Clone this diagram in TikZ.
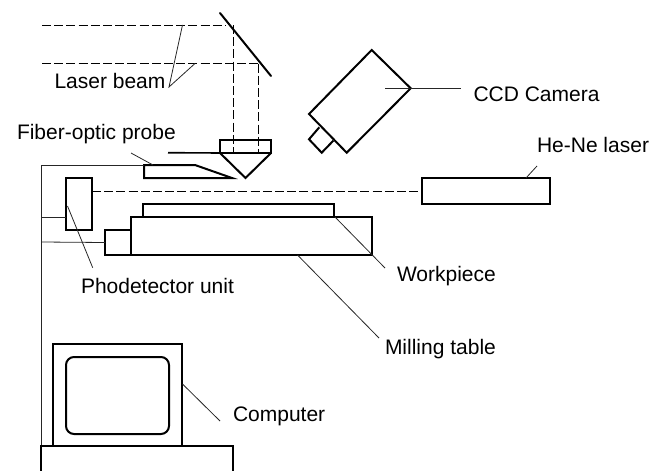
\documentclass[tikz,border=0pt]{standalone}
\usepackage{fontspec}
\setmainfont{Liberation Sans}
\tikzset{
  thickline/.style={line width=2pt,black,line join=miter},
  thinline/.style={line width=0.8pt,black!85},
  beam/.style={line width=0.9pt,black,dash pattern=on 9pt off 3.2pt},
  boxnode/.style={draw,line width=2pt,rectangle,inner sep=0pt,outer sep=0pt,fill=white},
  lbl/.style={anchor=base west,inner sep=0pt,outer sep=0pt,font=\fontsize{21pt}{25pt}\selectfont,text=black}
}
\begin{document}
\begin{tikzpicture}[x=1pt,y=-1pt]
\useasboundingbox (0,0) rectangle (653,471);
% named points
\coordinate (mirA) at (220,13);
\coordinate (mirB) at (271,76);
\coordinate (beamAL) at (42,25);
\coordinate (beamAR) at (226,25);
\coordinate (beamBL) at (42,63.5);
\coordinate (beamBR) at (259,63.5);
\coordinate (downAT) at (233,25);
\coordinate (downAB) at (233,152);
\coordinate (downBT) at (258.5,63.5);
\coordinate (downBB) at (258.5,152);
% wires and beams first
\draw[beam] (beamAL) -- (beamAR);
\draw[beam] (beamBL) -- (beamBR);
\draw[beam] (downAT) -- (downAB);
\draw[beam] (downBT) -- (downBB);
\draw[thickline,line cap=round] (mirA) -- (mirB);
% objective
\node[boxnode,fill=none,minimum width=51pt,minimum height=13pt] (obj) at (245.5,146.5) {};
\draw[thickline] (obj.south west) -- (245.5,178) -- (obj.south east);
\draw[thickline,line width=1.6pt] (168,152.7) -- (obj.south west);
% probe
\coordinate (pa) at (144,165);
\coordinate (pb) at (195,165);
\coordinate (pc) at (232,178);
\coordinate (pd) at (144,178);
\draw[thickline] (pa) -- (pb) -- (pc) -- (pd) -- cycle;
% detector and table
\node[boxnode,minimum width=26pt,minimum height=52pt] (det) at (79,204) {};
\node[boxnode,minimum width=26pt,minimum height=25pt] (drive) at (118,242.5) {};
\node[boxnode,minimum width=241pt,minimum height=38pt] (table) at (251.5,236) {};
\node[boxnode,minimum width=191pt,minimum height=13pt] (work) at (238.5,210.5) {};
\node[boxnode,minimum width=128pt,minimum height=26pt] (hene) at (486,191) {};
\draw[beam] (det.east |- hene.west) -- (hene.west);
% wiring
\coordinate (busT) at (41.5,165);
\coordinate (busB) at (41.5,446);
\coordinate (busD) at (41.5,217.5);
\coordinate (busM) at (41.5,242);
\draw[thinline] (pa) -- (busT) -- (busB);
\draw[thinline] (busD) -- (det.west |- busD);
\draw[thinline] (busM) -- (drive.west);
% camera
\coordinate (ca) at (371.7,50);
\coordinate (cb) at (410.7,88.3);
\coordinate (cc) at (346.7,152.7);
\coordinate (cd) at (309,114);
\coordinate (le) at (319.3,127.3);
\coordinate (lf) at (333.3,140.7);
\coordinate (lg) at (309,139.3);
\coordinate (lh) at (321.7,152.7);
\draw[thickline] (ca) -- (cb) -- (cc) -- (cd) -- cycle;
\draw[thickline] (le) -- (lg) -- (lh) -- (lf);
% computer
\node[boxnode,minimum width=128.5pt,minimum height=102pt] (mon) at (117.25,395) {};
\node[boxnode,rounded corners=8pt,minimum width=103pt,minimum height=77pt] (scr) at (117.5,395.5) {};
\draw[thickline] (41,471) -- (41,446.3) -- (233,446.3) -- (233,471);
% labels
\node[lbl] (lb) at (54.5,88) {Laser beam};
\node[lbl] (fp) at (17,139.5) {Fiber-optic probe};
\node[lbl] (cam) at (473.5,101) {CCD Camera};
\node[lbl] (he) at (537,152) {He-Ne laser};
\node[lbl] (pu) at (81,293) {Phodetector unit};
\node[lbl] (wp) at (397,281) {Workpiece};
\node[lbl] (mt) at (385,354) {Milling table};
\node[lbl] (co) at (233,421) {Computer};
% leaders
\coordinate (lbT) at (169,87);
\coordinate (lbA) at (182.5,25);
\coordinate (lbB) at (195,63.5);
\draw[thinline] (lbA) -- (lbT) -- (lbB);
\coordinate (fpS) at (131,153);
\coordinate (fpE) at (153,165);
\draw[thinline] (fpS) -- (fpE);
\coordinate (camS) at (385,88.5);
\coordinate (camE) at (461,88.5);
\draw[thinline] (camS) -- (camE);
\coordinate (heS) at (526,178);
\coordinate (heE) at (537,166);
\draw[thinline] (heS) -- (heE);
\coordinate (puS) at (67.5,206);
\coordinate (puE) at (92.7,267.7);
\draw[thinline] (puS) -- (puE);
\coordinate (wpS) at (335,217);
\coordinate (wpE) at (385,268);
\draw[thinline] (wpS) -- (wpE);
\coordinate (mtS) at (297.5,255);
\coordinate (mtE) at (379,338);
\draw[thinline] (mtS) -- (mtE);
\coordinate (coS) at (182.5,384);
\coordinate (coE) at (220,421);
\draw[thinline] (coS) -- (coE);
\end{tikzpicture}
\end{document}
